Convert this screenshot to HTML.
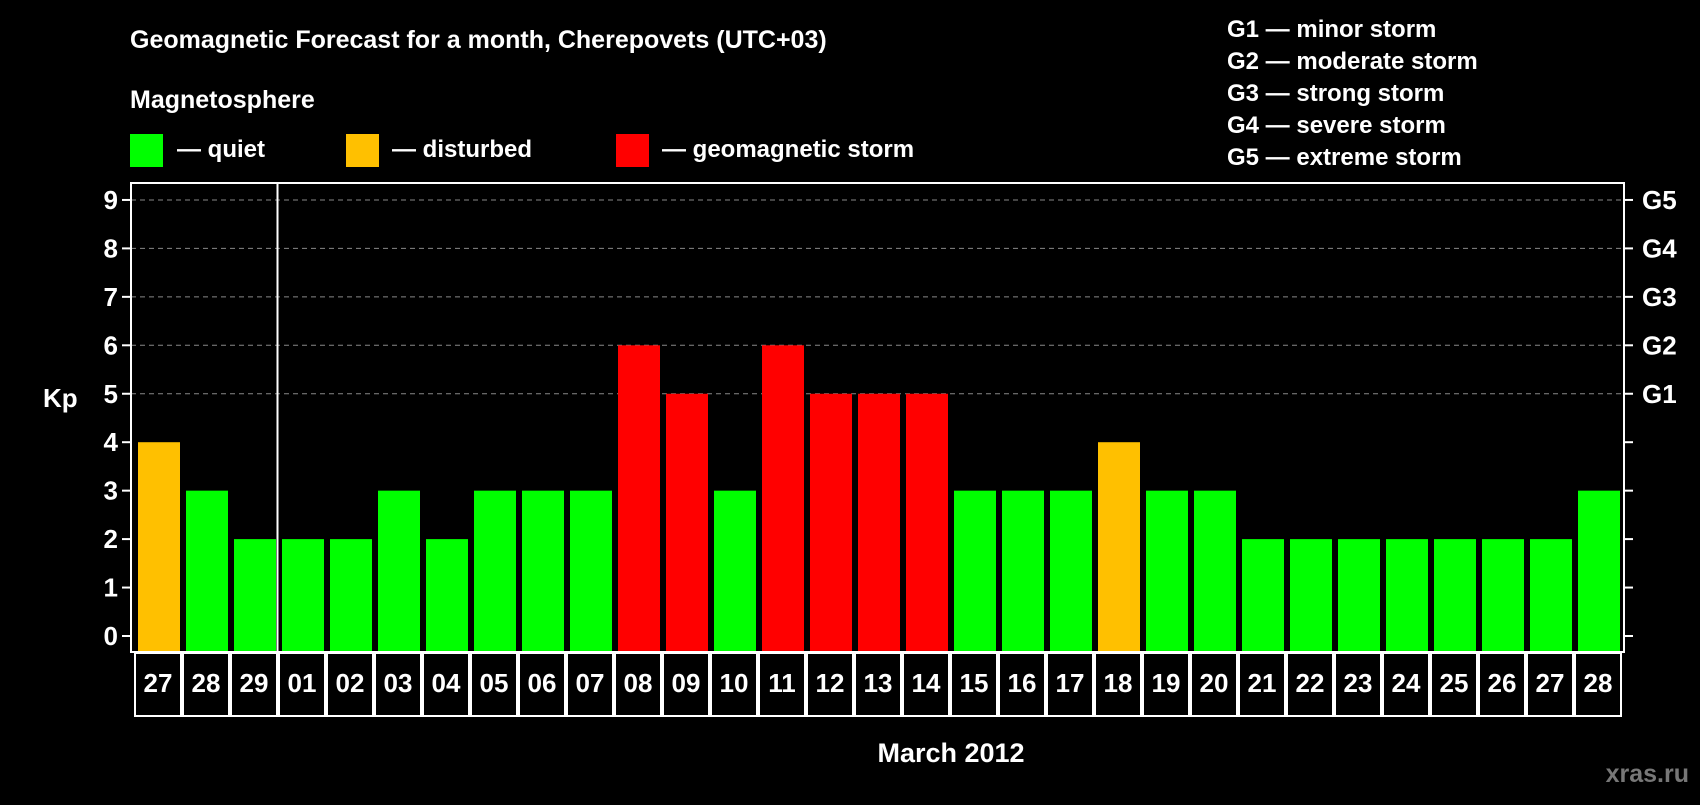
<!DOCTYPE html>
<html><head><meta charset="utf-8"><style>
body{margin:0;background:#000;width:1700px;height:800px;overflow:hidden;font-family:"Liberation Sans",Arial,sans-serif;font-weight:bold;color:#fff}
svg text{font-family:"Liberation Sans",Arial,sans-serif;font-weight:bold;fill:#fff}
</style></head><body>
<svg id="chart" width="1700" height="800">
<text x="130" y="48" font-size="25">Geomagnetic Forecast for a month, Cherepovets (UTC+03)</text>
<text x="130" y="108" font-size="25">Magnetosphere</text>
<g><rect x="130" y="134" width="33" height="33" fill="#00ff00"/><text x="177" y="157" font-size="24">— quiet</text></g>
<g><rect x="346" y="134" width="33" height="33" fill="#ffc000"/><text x="392" y="157" font-size="24">— disturbed</text></g>
<g><rect x="616" y="134" width="33" height="33" fill="#ff0000"/><text x="662" y="157" font-size="24">— geomagnetic storm</text></g>
<g font-size="24">
<text x="1227" y="37">G1 — minor storm</text>
<text x="1227" y="69">G2 — moderate storm</text>
<text x="1227" y="101">G3 — strong storm</text>
<text x="1227" y="133">G4 — severe storm</text>
<text x="1227" y="165">G5 — extreme storm</text>
</g>
<text x="43" y="407" font-size="26">Kp</text>
<text x="951" y="762" font-size="27" text-anchor="middle">March 2012</text>
<text x="1689" y="782" font-size="25" text-anchor="end" style="fill:#777">xras.ru</text>
<g id="plot"></g>
</svg>
<script>
const days=["27","28","29","01","02","03","04","05","06","07","08","09","10","11","12","13","14","15","16","17","18","19","20","21","22","23","24","25","26","27","28"];
const kp=[4,3,2,2,2,3,2,3,3,3,6,5,3,6,5,5,5,3,3,3,4,3,3,2,2,2,2,2,2,2,3];
const yTicks=[0,1,2,3,4,5,6,7,8,9];
const gLabels=["G1","G2","G3","G4","G5"];
const gLevels=[5,6,7,8,9];
const NS="http://www.w3.org/2000/svg";
const L=131,R=1624,T=183,B=652;
const y=v=>636-v*48.45;
const x=i=>134+i*48;
const g=document.getElementById('plot');
function mk(t,a){const e=document.createElementNS(NS,t);for(const k in a)e.setAttribute(k,a[k]);g.appendChild(e);return e;}
function color(v){return v>=5?"#ff0000":v>=4?"#ffc000":"#00ff00";}
yTicks.forEach(v=>{
 if(v>=5){const gl=mk('line',{x1:L,x2:R,y1:y(v),y2:y(v),stroke:'#888','stroke-dasharray':'5,4','stroke-width':1});
 
 }
 const t1=mk('line',{x1:L-9,x2:L,y1:y(v),y2:y(v),stroke:'#fff','stroke-width':2});
 
 
 const t2=mk('line',{x1:R,x2:R+9,y1:y(v),y2:y(v),stroke:'#fff','stroke-width':2});
 
 
 const tx=mk('text',{x:L-13,y:y(v)+9,'font-size':26,'text-anchor':'end'});tx.textContent=v;
 
 
});
gLabels.forEach((s,i)=>{
 const tx=mk('text',{x:1642,y:y(gLevels[i])+9,'font-size':26});tx.textContent=s;
 
 
});
kp.forEach((v,i)=>{
 const r=mk('rect',{x:x(i)+4,y:y(v),width:42,height:y(0)-y(v)+15,fill:color(v)});
 
 
 const c=mk('rect',{x:x(i)+1,y:B+1,width:46,height:63,fill:'none',stroke:'#fff','stroke-width':2});
 
 
 const tx=mk('text',{x:x(i)+24,y:B+40,'font-size':26,'text-anchor':'middle'});tx.textContent=days[i];
 
 
});
const fr=mk('rect',{x:L,y:T,width:R-L,height:B-T,fill:'none',stroke:'#fff','stroke-width':2});


const md=mk('line',{x1:x(3)-0.5,x2:x(3)-0.5,y1:T,y2:B,stroke:'#fff','stroke-width':2});


</script>
</body></html>
